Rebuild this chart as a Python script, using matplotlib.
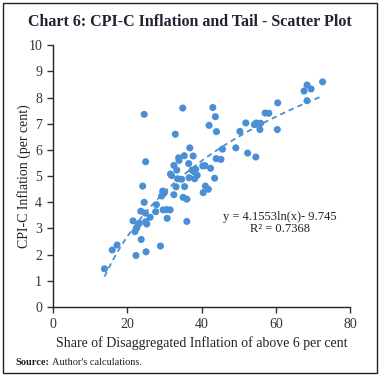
import matplotlib
matplotlib.use('Agg')
import matplotlib.pyplot as plt
import numpy as np
from matplotlib.patches import Rectangle

# share of disaggregated inflation above 6 per cent (x) vs CPI-C inflation (y)
share = [13.8, 15.9, 17.2, 21.5, 22.0, 22.5, 22.9, 23.2, 22.3, 23.7,
         23.6, 24.8, 24.5, 24.1, 24.9, 24.5, 24.9, 25.2, 25.0, 26.1,
         27.6, 27.8, 28.9, 29.5, 30.0, 29.2, 29.6, 30.6, 31.5, 30.7,
         31.6, 31.9, 32.5, 32.5, 32.9, 33.1, 33.3, 33.8, 33.9, 33.5,
         34.6, 34.9, 35.0, 35.3, 35.4, 36.0, 36.0, 36.5, 36.6, 36.8,
         37.4, 37.7, 38.1, 38.4, 38.8, 40.3, 40.4, 40.9, 41.0, 41.8,
         42.0, 42.4, 43.0, 43.5, 43.7, 43.9, 44.0, 45.2, 45.6, 49.2,
         50.3, 51.9, 52.4, 54.2, 54.7, 55.7, 55.9, 54.6, 57.1, 58.1,
         60.5, 60.4, 67.6, 68.4, 69.5, 68.4, 72.6, 38.0, 29.8]
cpi_c = [1.46, 2.18, 2.37, 3.29, 2.88, 3.02, 3.16, 3.20, 1.97, 2.58,
         3.66, 3.59, 4.00, 4.62, 5.55, 7.36, 3.26, 3.17, 2.11, 3.43,
         3.64, 3.91, 2.33, 4.43, 4.40, 4.24, 3.71, 3.72, 3.71, 3.39,
         5.08, 5.02, 5.41, 4.29, 6.60, 4.59, 5.23, 5.70, 5.60, 4.90,
         4.88, 7.60, 4.19, 5.78, 4.60, 4.12, 3.27, 5.48, 4.94, 6.08,
         5.23, 5.77, 4.90, 5.26, 5.03, 5.39, 4.37, 5.40, 4.62, 4.50,
         6.94, 5.30, 7.62, 4.92, 7.27, 5.67, 6.70, 5.64, 6.03, 6.08,
         6.71, 7.03, 5.88, 6.97, 7.03, 6.78, 7.02, 5.73, 7.41, 7.40,
         7.80, 6.78, 8.25, 8.48, 8.33, 7.88, 8.60, 5.16, 4.34]

# logarithmic trendline as reported on the chart
trend_a = 4.1553
trend_b = -9.745
r_squared = 0.7368

blue = '#4A8FD4'
serif = ['Liberation Serif', 'DejaVu Serif']
plt.rcParams['font.family'] = serif

fig = plt.figure(figsize=(3.79, 3.80), dpi=100)
ax = fig.add_axes([0.1406, 0.192, 0.783, 0.689])

ax.scatter(share, cpi_c, s=26, color=blue, edgecolors='none', zorder=3)

tx = np.linspace(min(share), max(share), 100)
ax.plot(tx, trend_a * np.log(tx) + trend_b, color=blue, lw=1.3,
        dashes=(3, 2.2), zorder=2)

ax.text(61, 3.2, 'y = %.4fln(x)- %.3f\nR² = %.4f' % (trend_a, -trend_b, r_squared),
        ha='center', va='center', fontsize=9, linespacing=1.0, color='#222222')

ax.set_xlim(0, 80)
ax.set_ylim(0, 10)
ax.set_xticks(range(0, 81, 20))
ax.set_yticks(range(0, 11))
for s in ['top', 'right']:
    ax.spines[s].set_visible(False)
for s in ['left', 'bottom']:
    ax.spines[s].set_color('#222222')
    ax.spines[s].set_linewidth(1.0)
ax.tick_params(direction='out', length=4, width=1.0, colors='#333333',
               labelsize=10, pad=4)
ax.set_xlabel('Share of Disaggregated Inflation of above 6 per cent',
              fontsize=10, color='#222222', labelpad=4)
ax.set_ylabel('CPI-C Inflation (per cent)', fontsize=10, color='#222222',
              labelpad=-2)

fig.text(0.5, 0.942, 'Chart 6: CPI-C Inflation and Tail - Scatter Plot',
         ha='center', va='center', fontsize=11.5, fontweight='bold',
         color='#222233')
fig.text(0.04, 0.047, 'Source:', fontsize=7.5, fontweight='bold',
         ha='left', va='center', color='#222222')
fig.text(0.137, 0.047, "Author's calculations.", fontsize=7.5,
         ha='left', va='center', color='#222222')

fig.patches.append(Rectangle((0.008, 0.018), 0.986, 0.974, transform=fig.transFigure,
                             fill=False, edgecolor='#222222', lw=1.0))

fig.savefig('out.png', dpi=100)
